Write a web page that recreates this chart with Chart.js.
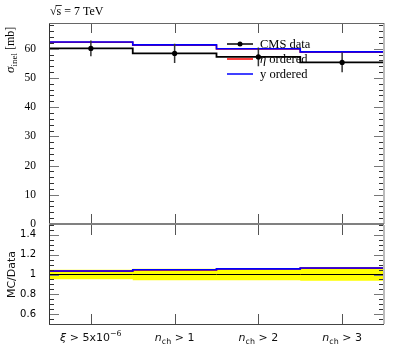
<!DOCTYPE html>
<html><head><meta charset="utf-8">
<script src="https://cdn.jsdelivr.net/npm/chart.js@4/dist/chart.umd.min.js"></script>
<style>
html,body{margin:0;padding:0;background:#fff;width:397px;height:358px;overflow:hidden}
canvas{position:absolute;left:0}
#a{top:0}
#b{top:214px}
</style></head><body>
<canvas id="b" width="397" height="144"></canvas>
<canvas id="a" width="397" height="240"></canvas>
<script>
// ---- data ----
const categories = ['*ξ* > 5x10^{−6}', '*n*_{ch} > 1', '*n*_{ch} > 2', '*n*_{ch} > 3'];
const cmsData = [60.1, 58.4, 57.2, 55.3];
const cmsErr = [2.7, 3.3, 3.2, 3.4];
const etaOrdered = [62.2, 61.2, 59.9, 58.8];
const yOrdered = [62.3, 61.3, 60.0, 58.9];
const dataRatio = [1, 1, 1, 1];
const etaRatio = [1.034, 1.046, 1.055, 1.064];
const yRatio = [1.036, 1.048, 1.057, 1.066];
const bandErr = [0.048, 0.058, 0.057, 0.062];
const topTicks = [0, 10, 20, 30, 40, 50, 60];
const ratioTicks = [0.6, 0.8, 1, 1.2, 1.4];
const topMax = 68.8, ratioMin = 0.5, ratioMax = 1.5;

// ---- helpers ----
const steps = vals => vals.map((v, i) => ({x: i, y: v})).concat([{x: vals.length, y: vals[vals.length - 1]}]);
const errBars = (vals, errs) => {
  const out = [];
  vals.forEach((v, i) => { out.push({x: i + 0.5, y: v - errs[i]}, {x: i + 0.5, y: v + errs[i]}, {x: i + 0.5, y: null}); });
  return out;
};
const SERIF = '"Liberation Serif","DejaVu Serif",serif';
const SANS = '"DejaVu Sans",sans-serif';

function drawRich(ctx, str, cx, baseY, size, family) {
  const segs = [];
  let i = 0, ital = false, buf = '';
  const push = (t, mode) => { if (t) segs.push({t, mode, ital}); };
  while (i < str.length) {
    const c = str[i];
    if (c === '*') { push(buf, 'n'); buf = ''; ital = !ital; i++; continue; }
    if ((c === '^' || c === '_') && str[i + 1] === '{') {
      push(buf, 'n'); buf = '';
      const end = str.indexOf('}', i);
      push(str.slice(i + 2, end), c === '^' ? 'sup' : 'sub');
      i = end + 1; continue;
    }
    buf += c; i++;
  }
  push(buf, 'n');
  const fontFor = s => (s.ital ? 'italic ' : '') + (s.mode === 'n' ? size : size * 0.72) + 'px ' + family;
  let w = 0;
  segs.forEach(s => { ctx.font = fontFor(s); s.w = ctx.measureText(s.t).width; w += s.w; });
  let x = cx - w / 2;
  ctx.textAlign = 'left'; ctx.textBaseline = 'alphabetic';
  segs.forEach(s => {
    ctx.font = fontFor(s);
    const dy = s.mode === 'sup' ? -size * 0.42 : (s.mode === 'sub' ? size * 0.25 : 0);
    ctx.fillText(s.t, x, baseY + dy);
    x += s.w;
  });
}

function frameTicks(ctx, chart, majors, minorFn, opts) {
  const y = chart.scales.y, x = chart.scales.x, a = chart.chartArea;
  ctx.save();
  ctx.lineWidth = 1;
  ctx.strokeStyle = '#333';
  minorFn().forEach(v => {
    const py = Math.round(y.getPixelForValue(v)) + 0.5;
    ctx.beginPath();
    ctx.moveTo(a.left, py); ctx.lineTo(a.left + 5, py);
    ctx.moveTo(a.right, py); ctx.lineTo(a.right - 5, py);
    ctx.stroke();
  });
  ctx.strokeStyle = '#777';
  majors.forEach(v => {
    const py = Math.round(y.getPixelForValue(v)) + 0.5;
    ctx.beginPath();
    ctx.moveTo(a.left, py); ctx.lineTo(a.left + 10, py);
    ctx.moveTo(a.right, py); ctx.lineTo(a.right - 10, py);
    ctx.stroke();
  });
  ctx.strokeStyle = '#555';
  categories.forEach((c, i) => {
    const px = Math.round(x.getPixelForValue(i + 0.5)) + 0.5;
    ctx.beginPath();
    ctx.moveTo(px, a.top); ctx.lineTo(px, a.top + 10);
    ctx.moveTo(px, a.bottom); ctx.lineTo(px, a.bottom - 10);
    ctx.stroke();
  });
  ctx.strokeStyle = '#333';
  ctx.beginPath(); ctx.moveTo(a.left + 0.5, a.top); ctx.lineTo(a.left + 0.5, a.bottom); ctx.stroke();
  ctx.strokeStyle = '#bbb'; ctx.lineWidth = 2;
  ctx.beginPath(); ctx.moveTo(a.right, a.top); ctx.lineTo(a.right, a.bottom); ctx.stroke();
  ctx.lineWidth = 1;
  if (opts.top) { ctx.strokeStyle = '#666'; ctx.beginPath(); ctx.moveTo(a.left, a.top + 0.5); ctx.lineTo(a.right, a.top + 0.5); ctx.stroke(); }
  if (opts.bottom) { ctx.strokeStyle = '#444'; ctx.beginPath(); ctx.moveTo(a.left, a.bottom + 0.5); ctx.lineTo(a.right, a.bottom + 0.5); ctx.stroke(); }
  ctx.restore();
}

const topPlugin = {
  id: 'topDeco',
  afterDraw(chart) {
    const ctx = chart.ctx, a = chart.chartArea, y = chart.scales.y;
    frameTicks(ctx, chart, topTicks, () => { const r = []; for (let v = 2; v < topMax; v += 2) if (v % 10 !== 0) r.push(v); return r; }, {top: true});
    ctx.save();
    ctx.strokeStyle = '#808080'; ctx.lineWidth = 2;
    const z = y.getPixelForValue(0);
    ctx.beginPath(); ctx.moveTo(a.left, z); ctx.lineTo(a.right, z); ctx.stroke();
    ctx.fillStyle = '#000';
    ctx.font = '12px ' + SERIF; ctx.textAlign = 'left'; ctx.textBaseline = 'alphabetic';
    ctx.fillText('√', 50, 15);
    const wr = ctx.measureText('√').width;
    ctx.fillText('s = 7 TeV', 50 + wr, 15);
    const ws = ctx.measureText('s').width;
    ctx.lineWidth = 0.8; ctx.strokeStyle = '#000';
    ctx.beginPath(); ctx.moveTo(50 + wr - 1, 5.5); ctx.lineTo(50 + wr + ws + 0.5, 5.5); ctx.stroke();
    ctx.save();
    ctx.translate(14, 73); ctx.rotate(-Math.PI / 2);
    ctx.font = 'italic 13px ' + SERIF; ctx.fillText('σ', 0, 0);
    let xx = ctx.measureText('σ').width;
    ctx.font = '9px ' + SERIF; ctx.fillText('inel', xx, 3);
    xx += ctx.measureText('inel').width;
    ctx.font = '12px ' + SERIF; ctx.fillText(' [mb]', xx, 0);
    ctx.restore();
    const L = [{t: 'CMS data', c: '#000', dot: true, y: 44}, {t: '*η* ordered', c: '#ff0000', y: 59}, {t: 'y ordered', c: '#0000ff', y: 74}];
    L.forEach(l => {
      ctx.strokeStyle = l.c; ctx.lineWidth = 1.5;
      ctx.beginPath(); ctx.moveTo(227, l.y); ctx.lineTo(253, l.y); ctx.stroke();
      if (l.dot) { ctx.fillStyle = '#000'; ctx.beginPath(); ctx.arc(240, l.y, 2.5, 0, Math.PI * 2); ctx.fill(); }
      ctx.fillStyle = '#000';
      const parts = l.t.split('*');
      let px = 260;
      parts.forEach((p, k) => { ctx.font = (k % 2 ? 'italic ' : '') + '12.5px ' + SERIF; ctx.fillText(p, px, l.y + 4); px += ctx.measureText(p).width; });
    });
    ctx.restore();
  }
};

const botPlugin = {
  id: 'botDeco',
  afterDraw(chart) {
    const ctx = chart.ctx, a = chart.chartArea, x = chart.scales.x;
    frameTicks(ctx, chart, ratioTicks, () => { const r = []; for (let k = 10; k <= 30; k++) if (k % 4 !== 0) r.push(k * 0.05); return r; }, {bottom: true});
    ctx.save();
    ctx.fillStyle = '#111';
    categories.forEach((c, i) => drawRich(ctx, c, x.getPixelForValue(i + 0.5), a.bottom + 17, 11, SANS));
    ctx.translate(15, (a.top + a.bottom) / 2); ctx.rotate(-Math.PI / 2);
    ctx.font = '11px ' + SANS; ctx.textAlign = 'center'; ctx.textBaseline = 'alphabetic';
    ctx.fillText('MC/Data', 0, 0);
    ctx.restore();
  }
};

Chart.defaults.animation = false;
const common = (min, max, ticks, fmt, font) => ({
  x: {type: 'linear', min: 0, max: categories.length, display: false},
  y: {type: 'linear', min, max,
      afterFit: s => { s.width = 49; },
      afterBuildTicks: s => { s.ticks = ticks.map(v => ({value: v})); },
      grid: {display: false}, border: {display: false},
      ticks: {padding: 5, color: '#000', font, callback: fmt}}
});
const lineDs = (data, color, w, extra) => Object.assign({data, borderColor: color, borderWidth: w, pointRadius: 0, stepped: true, fill: false, spanGaps: false}, extra || {});

new Chart(document.getElementById('a'), {
  type: 'line',
  data: {datasets: [
    {type: 'scatter', data: cmsData.map((v, i) => ({x: i + 0.5, y: v})), pointRadius: 2.6, pointBackgroundColor: '#000', pointBorderWidth: 0, showLine: false},
    lineDs(errBars(cmsData, cmsErr), '#333', 1.5, {stepped: false}),
    lineDs(steps(yOrdered), '#0000ff', 1.6),
    lineDs(steps(etaOrdered), '#ff0000', 1.6),
    lineDs(steps(cmsData), '#000', 1.8)
  ]},
  options: {responsive: false, devicePixelRatio: 1,
    layout: {padding: {top: 23, right: 13, bottom: 16, left: 0}},
    plugins: {legend: {display: false}, tooltip: {enabled: false}},
    scales: common(0, topMax, topTicks, v => String(v), {family: SERIF, size: 11.5})},
  plugins: [topPlugin]
});

new Chart(document.getElementById('b'), {
  type: 'line',
  data: {datasets: [
    lineDs(steps(yRatio), '#0000ff', 1.6),
    lineDs(steps(etaRatio), '#ff0000', 1.6),
    lineDs(steps(dataRatio), '#000', 1),
    lineDs(steps(bandErr.map(e => 1 + e)), 'rgba(0,0,0,0)', 0, {fill: '+1', backgroundColor: '#ffff00'}),
    lineDs(steps(bandErr.map(e => 1 - e)), 'rgba(0,0,0,0)', 0)
  ]},
  options: {responsive: false, devicePixelRatio: 1,
    layout: {padding: {top: 10, right: 13, bottom: 34, left: 0}},
    plugins: {legend: {display: false}, tooltip: {enabled: false}},
    scales: common(ratioMin, ratioMax, ratioTicks, v => String(v), {family: SANS, size: 10})},
  plugins: [botPlugin]
});
</script>
</body></html>
